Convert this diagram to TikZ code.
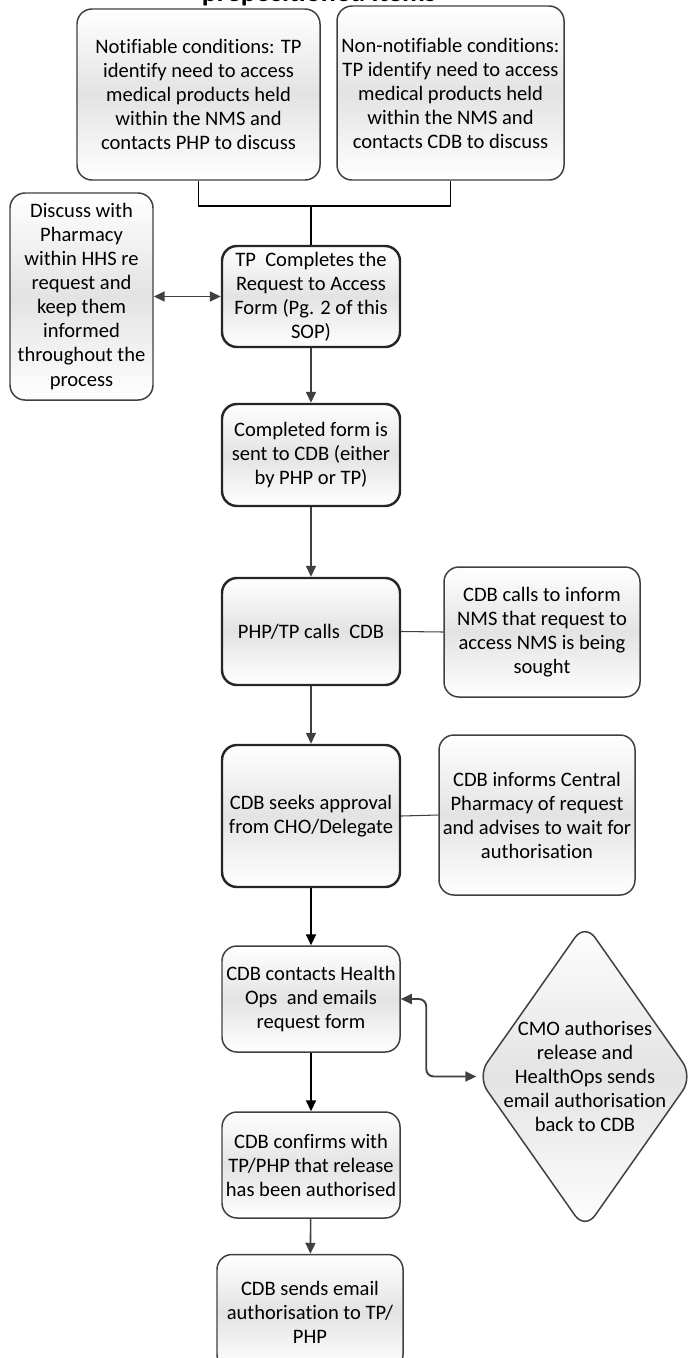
\documentclass[tikz,border=0pt]{standalone}
\usepackage{fontspec}
\setmainfont{Carlito}[Ligatures=NoCommon]
\usepackage{tikz}
\usetikzlibrary{arrows.meta,shapes.geometric}
\definecolor{edge}{HTML}{404040}
\definecolor{shade}{HTML}{E3E3E3}

\tikzset{
  card/.style 2 args={draw=edge, line width=0.85pt, rounded corners=0.3cm,
    top color=white, bottom color=white, middle color=shade,
    minimum width=#1, minimum height=#2, inner sep=0pt, align=center,
    font=\fontsize{11.7}{13.66}\selectfont},
  mainbox/.style 2 args={card={#1}{#2}, draw=black!85, line width=1.4pt},
  link/.style={draw=black, line width=0.6pt},
  tip/.tip={Triangle[length=0.22cm,width=0.2cm]},
  flow/.style={draw=edge, line width=0.9pt, -tip},
  boldflow/.style={flow, draw=black, line width=1.2pt},
  both/.style={flow, line width=1.1pt, tip-tip}
}

\begin{document}
\begin{tikzpicture}
  \useasboundingbox (0,0) rectangle (13.78,-27.16);

  % heading, only its lower edge is on the page
  \node[anchor=base, font=\fontsize{16}{19}\bfseries\selectfont] (title) at (6.38,-0.03) {prepositioned items};

  % the two starting points
  \node[card={4.86cm}{3.42cm}] (notif) at (3.97,-1.89)
    {Notifiable conditions: TP\\identify need to access\\medical products held\\within the NMS and\\contacts PHP to discuss};
  \node[card={4.54cm}{3.48cm}] (nonnotif) at (9.01,-1.86)
    {Non-notifiable conditions:\\TP identify need to access\\medical products held\\within the NMS and\\contacts CDB to discuss};

  % main column
  \node[mainbox={3.56cm}{2.02cm}] (tpform) at (6.22,-5.93)
    {TP\ \ Completes the\\Request to Access\\Form (Pg. 2 of this\\SOP)};
  \node[mainbox={3.56cm}{2.04cm}] (sentform) at (6.22,-9.10)
    {Completed form is\\sent to CDB (either\\by PHP or TP)};
  \node[mainbox={3.56cm}{2.14cm}] (calls) at (6.22,-12.63) {PHP/TP calls\ \ CDB};
  \node[mainbox={3.56cm}{2.84cm}] (seeks) at (6.22,-16.32)
    {CDB seeks approval\\from CHO/Delegate};
  \node[card={3.56cm}{2.12cm}] (contacts) at (6.22,-19.98)
    {CDB contacts Health\\Ops\ \ and emails\\request form};
  \node[card={3.56cm}{2.12cm}] (confirms) at (6.22,-23.30)
    {CDB confirms with\\TP/PHP that release\\has been authorised};
  \node[card={3.72cm}{2.30cm}] (sends) at (6.20,-26.24)
    {CDB sends email\\authorisation to TP/\\PHP};

  % side boxes
  \node[card={2.86cm}{4.14cm}] (discuss) at (1.63,-5.93)
    {Discuss with\\Pharmacy\\within HHS re\\request and\\keep them\\informed\\throughout the\\process};
  \node[card={3.92cm}{2.60cm}] (informnms) at (10.84,-12.64)
    {CDB calls to inform\\NMS that request to\\access NMS is being\\sought};
  \node[card={3.92cm}{3.20cm}] (central) at (10.74,-16.30)
    {CDB informs Central\\Pharmacy of request\\and advises to wait for\\authorisation};
  \node[card={4.32cm}{6.14cm}, shape=diamond, rounded corners=0.35cm] (cmo) at (11.70,-21.53) {};
  \node[align=center, font=\fontsize{11.7}{13.66}\selectfont] (cmotext) at (cmo.center)
    {CMO authorises\\release and\\HealthOps sends\\email authorisation\\back to CDB};

  % connectors
  \coordinate (merge) at (6.22,-4.12);
  \draw[link] (notif.south) |- (merge) -| (nonnotif.south);
  \draw[link] (merge) -- (tpform.north);
  \draw[both] (discuss.east) -- (tpform.west);
  \draw[flow] (tpform) -- (sentform);
  \draw[flow] (sentform) -- (calls);
  \draw[flow] (calls) -- (seeks);
  \draw[boldflow] (seeks) -- (contacts);
  \draw[boldflow] (contacts) -- (confirms);
  \draw[flow] (confirms) -- (sends);
  \draw[link, draw=edge] (calls.east) -- (informnms.west);
  \draw[link, draw=edge] (seeks.east) -- (central.west);
  \draw[both, rounded corners=0.15cm] (contacts.east) -| ([xshift=-1cm]cmo.west) -- (cmo.west);
\end{tikzpicture}
\end{document}
